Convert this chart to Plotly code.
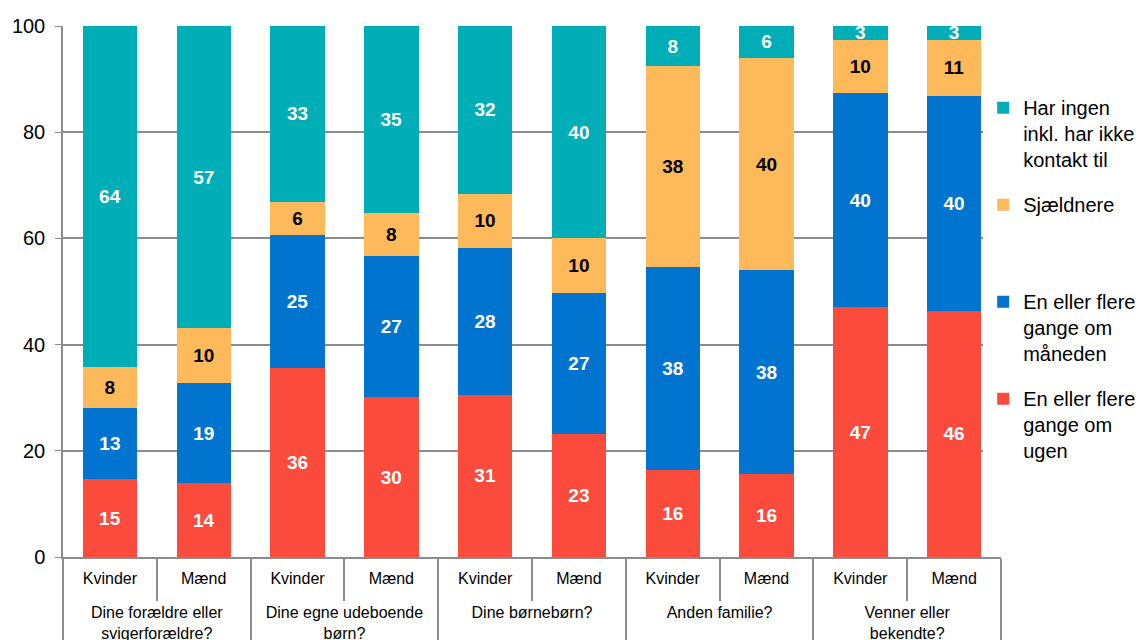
import plotly.graph_objects as go

grupper = ["<br>Dine forældre eller<br>svigerforældre?", "<br>Dine egne udeboende<br>børn?",
           "<br>Dine børnebørn?", "<br>Anden familie?", "<br>Venner eller<br>bekendte?"]
koen = ["Kvinder", "Mænd"]

x_grp = [g for g in grupper for _ in koen]
x_koen = [k for _ in grupper for k in koen]

ugen = [14.6, 13.9, 35.6, 30.1, 30.6, 23.2, 16.4, 15.6, 47.0, 46.4]
maaneden = [13.4, 18.8, 25.0, 26.6, 27.6, 26.6, 38.3, 38.4, 40.3, 40.4]
sjaeldnere = [7.8, 10.4, 6.3, 8.1, 10.2, 10.2, 37.7, 40.0, 10.1, 10.6]
ingen = [64.2, 56.9, 33.1, 35.2, 31.6, 40.0, 7.6, 6.0, 2.6, 2.6]

serier = [
    ("En eller flere<br>gange om<br>ugen", ugen, "#FA4B3C", "white"),
    ("En eller flere<br>gange om<br>måneden", maaneden, "#0074CE", "white"),
    ("Sjældnere<br> <br> ", sjaeldnere, "#FDB95A", "black"),
    ("Har ingen<br>inkl. har ikke<br>kontakt til", ingen, "#00AEB8", "white"),
]

font = "Liberation Sans, Arial, sans-serif"

fig = go.Figure()
for i, (navn, vals, farve, tekstfarve) in enumerate(serier):
    fig.add_trace(go.Bar(
        x=[x_grp, x_koen], y=vals, name=navn, legendgroup=str(i),
        legendrank=len(serier) - i,
        marker=dict(color=farve, line=dict(width=0)),
        texttemplate="%{y:.0f}", textposition="inside", insidetextanchor="middle",
        textfont=dict(color=tekstfarve, size=19, family=font, weight="bold"),
        textangle=0, hoverinfo="skip",
    ))

# siden har 8px body-margin, så marginerne er forskudt tilsvarende
fig.update_layout(
    barmode="stack", bargap=0.42,
    width=1145, height=640,
    margin=dict(l=55, r=152, t=18, b=91, autoexpand=False),
    plot_bgcolor="white", paper_bgcolor="white",
    font=dict(family=font, size=17, color="black"),
    uniformtext=dict(mode="show", minsize=10),
    legend=dict(x=0.981, xanchor="left", y=0.883, yanchor="top",
                traceorder="grouped", valign="top", tracegroupgap=16,
                font=dict(size=20, family=font), itemwidth=30),
    showlegend=True,
)
fig.update_yaxes(range=[0, 100], dtick=20, showgrid=True, gridcolor="#8c8c8c", gridwidth=1.5,
                 showline=True, linecolor="#8c8c8c", linewidth=1.5, ticks="outside",
                 ticklen=6, tickcolor="#8c8c8c", tickfont=dict(size=20), automargin=False,
                 ticklabelstandoff=6)
fig.update_xaxes(type="multicategory", showline=True, linecolor="#8c8c8c", linewidth=1.5,
                 ticks="outside", tickson="boundaries", ticklen=42, tickcolor="#8c8c8c",
                 tickwidth=1.5, showdividers=True, dividercolor="#8c8c8c", dividerwidth=1.5,
                 tickfont=dict(size=16), ticklabelstandoff=6, automargin=False)

fig.write_html("out.html")
